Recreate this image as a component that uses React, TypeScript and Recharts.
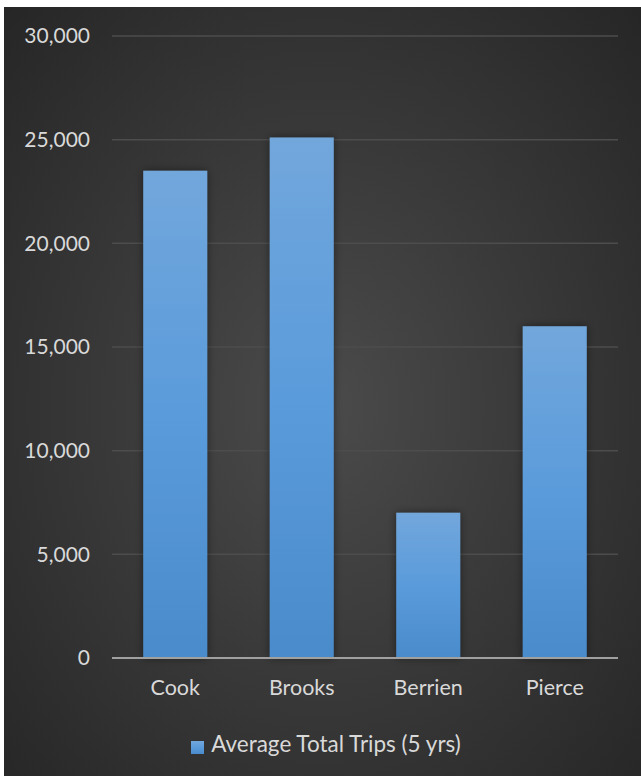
import { BarChart, Bar, XAxis, YAxis, CartesianGrid, Legend } from "recharts";

const counties = ["Cook", "Brooks", "Berrien", "Pierce"];
const avgTrips = [23500, 25100, 7000, 16000];
const yTicks = [0, 5000, 10000, 15000, 20000, 25000, 30000];

const data = counties.map((name, i) => ({ name, trips: avgTrips[i] }));

const FONT = "Lato, 'Open Sans', sans-serif";
const TEXT = "#d9d9d9";

export default function App() {
  return (
    <div
      style={{
        position: "absolute",
        left: 4,
        top: 7,
        width: 637,
        height: 769,
        background: "radial-gradient(ellipse at 50% 52%, #4b4b4b 0%, #3a3a3a 45%, #262626 100%)",
        fontFamily: FONT,
      }}
    >
      <BarChart
        width={637}
        height={769}
        data={data}
        margin={{ top: 29, right: 23, left: 0, bottom: 20 }}
        barCategoryGap="24.7%"
      >
        <defs>
          <linearGradient id="barFill" x1="0" y1="0" x2="0" y2="1">
            <stop offset="0%" stopColor="#72a7dc" />
            <stop offset="50%" stopColor="#5a9bdb" />
            <stop offset="100%" stopColor="#4a8bcb" />
          </linearGradient>
          <filter id="barShadow" x="-20%" y="-5%" width="140%" height="110%">
            <feDropShadow dx="0" dy="0" stdDeviation="4" floodColor="#000" floodOpacity="0.45" />
          </filter>
        </defs>
        <CartesianGrid vertical={false} stroke="#4d4d4d" strokeWidth={1.5} />
        <XAxis
          dataKey="name"
          height={72}
          tickLine={false}
          axisLine={{ stroke: "#a0a0a0", strokeWidth: 2 }}
          tickMargin={16}
          tick={{ fill: TEXT, fontSize: 21.5, fontFamily: FONT }}
        />
        <YAxis
          width={108}
          domain={[0, 30000]}
          ticks={yTicks}
          axisLine={false}
          tickLine={false}
          tickMargin={16}
          tickFormatter={(v: number) => v.toLocaleString("en-US")}
          tick={{ fill: TEXT, fontSize: 21, fontFamily: FONT }}
        />
        <Legend
          verticalAlign="bottom"
          iconType="square"
          iconSize={13}
          height={26}
          wrapperStyle={{ left: 20 }}
          formatter={(v: string) => (
            <span style={{ color: TEXT, fontSize: 22.5, fontFamily: FONT, marginLeft: 3 }}>{v}</span>
          )}
        />
        <Bar
          dataKey="trips"
          name="Average Total Trips (5 yrs)"
          fill="url(#barFill)"
          filter="url(#barShadow)"
          isAnimationActive={false}
        />
      </BarChart>
    </div>
  );
}
